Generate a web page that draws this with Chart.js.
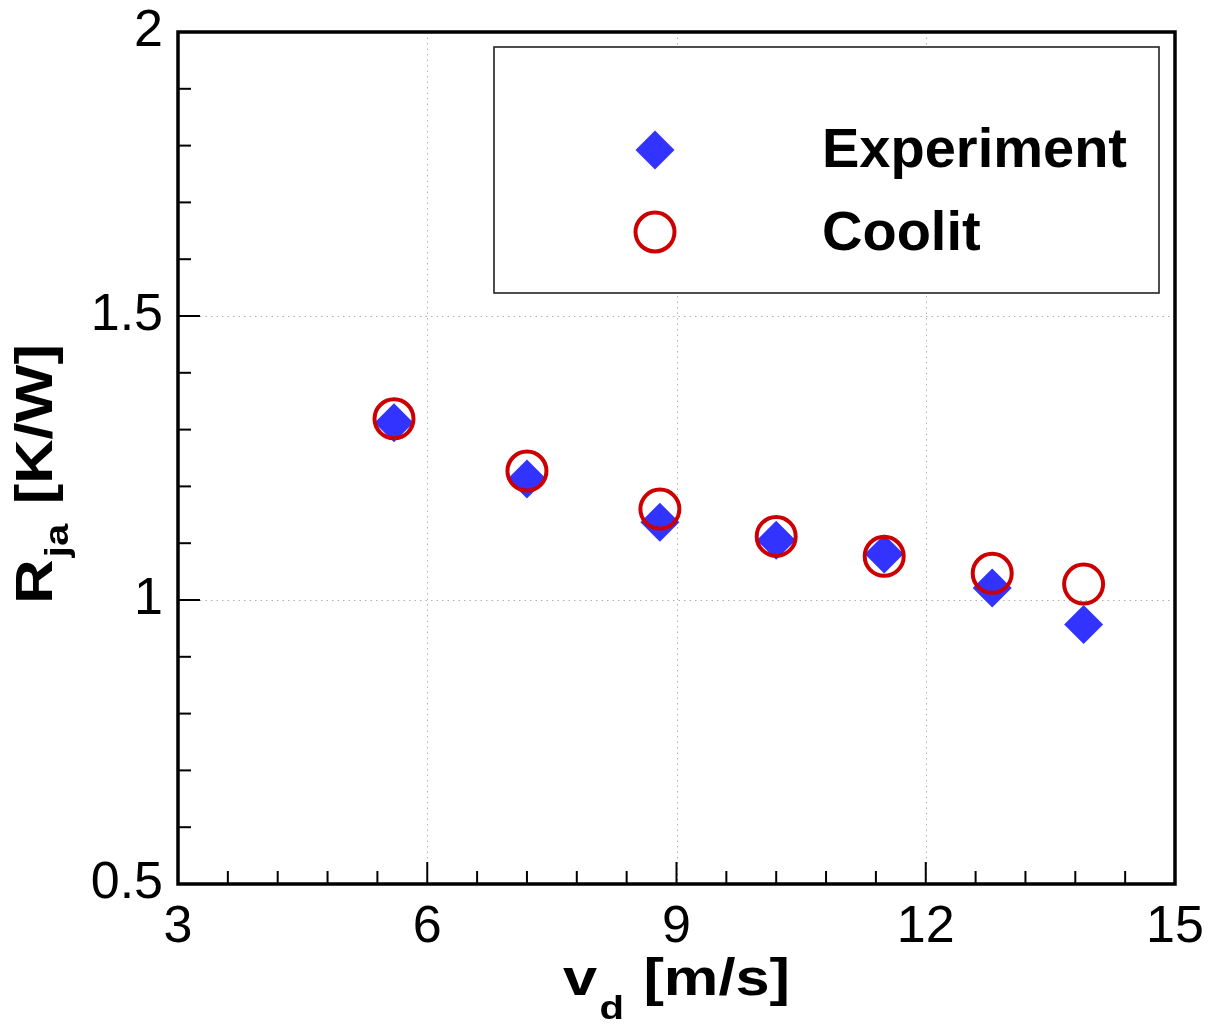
<!DOCTYPE html>
<html>
<head>
<meta charset="utf-8">
<script src="https://cdn.jsdelivr.net/npm/chart.js@4.4.0/dist/chart.umd.min.js"></script>
<style>
  html, body { margin: 0; padding: 0; background: #ffffff; }
  #wrap { position: relative; width: 1213px; height: 1028px; }
</style>
</head>
<body>
<div id="wrap"><canvas id="c" width="1213" height="1028"></canvas></div>
<script>
// ---- data ----
const velocity = [5.6, 7.2, 8.8, 10.2, 11.5, 12.8, 13.9];
const experiment = [1.312, 1.213, 1.137, 1.105, 1.081, 1.021, 0.957];
const coolit = [1.319, 1.227, 1.160, 1.112, 1.077, 1.047, 1.028];
const seriesNames = ['Experiment', 'Coolit'];
const xTicks = [3, 6, 9, 12, 15];
const xTickLabels = ['3', '6', '9', '12', '15'];
const yTicks = [0.5, 1, 1.5, 2];
const yTickLabels = ['0.5', '1', '1.5', '2'];
const xTitle = ['v', 'd', ' [m/s]'];
const yTitle = ['R', 'ja', ' [K/W]'];

const FONT = '"Liberation Sans", Arial, Helvetica, sans-serif';
const BLUE = '#3333ff';
const RED = '#cc0000';

function toPoints(xs, ys) { return xs.map((x, i) => ({ x: x, y: ys[i] })); }

const framePlugin = {
  id: 'frame',
  beforeDatasetsDraw(chart) {
    const { ctx, chartArea: a, scales: { x, y } } = chart;
    ctx.save();
    ctx.strokeStyle = '#b0b0b0';
    ctx.lineWidth = 1;
    ctx.setLineDash([1.5, 4]);
    xTicks.forEach(v => {
      if (v <= x.min || v >= x.max) return;
      const px = Math.round(x.getPixelForValue(v)) + 0.5;
      ctx.beginPath(); ctx.moveTo(px, a.top); ctx.lineTo(px, a.bottom); ctx.stroke();
    });
    yTicks.forEach(v => {
      if (v <= y.min || v >= y.max) return;
      const py = Math.round(y.getPixelForValue(v)) + 0.5;
      ctx.beginPath(); ctx.moveTo(a.left, py); ctx.lineTo(a.right, py); ctx.stroke();
    });
    ctx.restore();
  },
  afterDraw(chart) {
    const { ctx, chartArea: a, scales: { x, y } } = chart;
    ctx.save();
    // ticks (inward)
    ctx.strokeStyle = '#000';
    ctx.lineWidth = 2;
    const majL = 22, minL = 13;
    const xMinorStep = 0.6, yMinorStep = 0.1;
    for (let i = 0; ; i++) {
      const v = x.min + i * xMinorStep;
      if (v > x.max + 1e-9) break;
      const major = xTicks.some(t => Math.abs(t - v) < 1e-6);
      const px = x.getPixelForValue(v);
      ctx.beginPath(); ctx.moveTo(px, a.bottom); ctx.lineTo(px, a.bottom - (major ? majL : minL)); ctx.stroke();
    }
    for (let i = 0; ; i++) {
      const v = y.min + i * yMinorStep;
      if (v > y.max + 1e-9) break;
      const major = yTicks.some(t => Math.abs(t - v) < 1e-6);
      const py = y.getPixelForValue(v);
      ctx.beginPath(); ctx.moveTo(a.left, py); ctx.lineTo(a.left + (major ? majL : minL), py); ctx.stroke();
    }
    // frame
    ctx.lineWidth = 3.5;
    ctx.strokeRect(a.left, a.top, a.right - a.left, a.bottom - a.top);

    // legend box
    const lb = { l: 494, t: 47, r: 1159, b: 293 };
    ctx.lineWidth = 1.6;
    ctx.strokeStyle = '#222';
    ctx.fillStyle = '#fff';
    ctx.fillRect(lb.l, lb.t, lb.r - lb.l, lb.b - lb.t);
    ctx.strokeRect(lb.l, lb.t, lb.r - lb.l, lb.b - lb.t);
    const ds = chart.data.datasets;
    const symX = 655;
    const rows = [150, 232];
    // diamond
    const dsE = ds[0];
    ctx.fillStyle = dsE.backgroundColor;
    ctx.beginPath();
    const r = dsE.pointRadius;
    ctx.moveTo(symX - r, rows[0]); ctx.lineTo(symX, rows[0] - r); ctx.lineTo(symX + r, rows[0]); ctx.lineTo(symX, rows[0] + r);
    ctx.closePath(); ctx.fill();
    // circle
    const dsC = ds[1];
    ctx.strokeStyle = dsC.borderColor;
    ctx.lineWidth = dsC.borderWidth;
    ctx.beginPath(); ctx.arc(symX, rows[1], dsC.pointRadius, 0, Math.PI * 2); ctx.stroke();
    ctx.fillStyle = '#000';
    ctx.font = 'bold 56px ' + FONT;
    ctx.textBaseline = 'alphabetic';
    ctx.textAlign = 'left';
    ctx.fillText(dsE.label, 822, 167);
    ctx.fillText(dsC.label, 822, 250);

    // axis titles
    const big = 'bold 52px ' + FONT, small = 'bold 34px ' + FONT;
    const sx = 1.18;
    function drawTitle(parts, cx, base, subDrop) {
      ctx.font = big; const w0 = ctx.measureText(parts[0]).width;
      ctx.font = small; const w1 = ctx.measureText(parts[1]).width;
      ctx.font = big; const w2 = ctx.measureText(parts[2]).width;
      const tot = (w0 + w1 + 4 + w2);
      ctx.save();
      ctx.translate(cx, base);
      ctx.scale(sx, 1);
      let xx = -tot / 2;
      ctx.font = big; ctx.fillText(parts[0], xx, 0); xx += w0 + 2;
      ctx.font = small; ctx.fillText(parts[1], xx, subDrop); xx += w1 + 2;
      ctx.font = big; ctx.fillText(parts[2], xx, 0);
      ctx.restore();
    }
    ctx.fillStyle = '#000';
    drawTitle(xTitle, (a.left + a.right) / 2, 995, 24);
    ctx.save();
    ctx.translate(52, 474);
    ctx.rotate(-Math.PI / 2);
    drawTitle(yTitle, 0, 0, 16);
    ctx.restore();
    ctx.restore();
  }
};

const chart = new Chart(document.getElementById('c'), {
  type: 'scatter',
  data: {
    datasets: [
      {
        label: seriesNames[0],
        data: toPoints(velocity, experiment),
        pointStyle: 'rectRot',
        pointRadius: 19.5,
        backgroundColor: BLUE,
        borderWidth: 0,
        borderColor: BLUE,
        order: 2
      },
      {
        label: seriesNames[1],
        data: toPoints(velocity, coolit),
        pointStyle: 'circle',
        pointRadius: 19.5,
        backgroundColor: 'rgba(0,0,0,0)',
        borderColor: RED,
        borderWidth: 4,
        order: 1
      }
    ]
  },
  options: {
    responsive: false,
    animation: false,
    events: [],
    layout: { padding: { top: 32, right: 38, left: 0, bottom: 0 } },
    plugins: { legend: { display: false }, tooltip: { enabled: false }, title: { display: false } },
    scales: {
      x: {
        type: 'linear',
        min: 3, max: 15,
        grid: { display: false, drawTicks: false },
        border: { display: false },
        afterBuildTicks: s => { s.ticks = xTicks.map(v => ({ value: v })); },
        afterFit: s => { s.height = 144; s.paddingLeft = 0; s.paddingRight = 0; },
        ticks: {
          padding: 12,
          maxRotation: 0,
          autoSkip: false,
          color: '#000',
          font: { family: FONT, size: 52 },
          callback: (v, i) => xTickLabels[i]
        }
      },
      y: {
        type: 'linear',
        min: 0.5, max: 2,
        grid: { display: false, drawTicks: false },
        border: { display: false },
        afterBuildTicks: s => { s.ticks = yTicks.map(v => ({ value: v })); },
        afterFit: s => { s.width = 178; s.paddingTop = 0; s.paddingBottom = 0; },
        ticks: {
          padding: 15,
          autoSkip: false,
          color: '#000',
          font: { family: FONT, size: 52 },
          callback: (v, i) => yTickLabels[i]
        }
      }
    }
  },
  plugins: [framePlugin]
});
</script>
</body>
</html>
